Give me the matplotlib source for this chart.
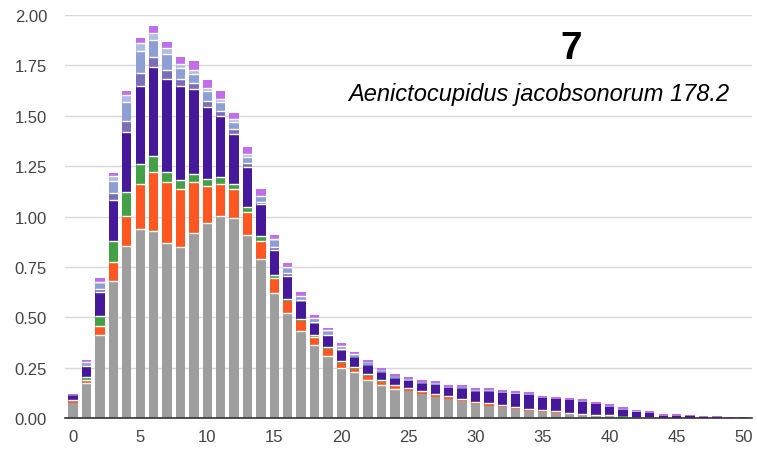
import matplotlib
matplotlib.use("Agg")
import matplotlib.pyplot as plt
import numpy as np

plt.rcParams['font.family'] = ['Liberation Sans', 'DejaVu Sans']

positions = list(range(51))

gray = [0.075, 0.175, 0.412, 0.68, 0.855, 0.938, 0.93, 0.87, 0.85, 0.92,
        0.968, 1.004, 0.995, 0.908, 0.79, 0.62, 0.52, 0.433, 0.364, 0.31,
        0.25, 0.228, 0.19, 0.164, 0.144, 0.132, 0.119, 0.106, 0.094, 0.083,
        0.069, 0.061, 0.053, 0.045, 0.036, 0.03, 0.025, 0.02, 0.015, 0.01,
        0.008, 0.005, 0.004, 0.003, 0.002, 0.002, 0.002, 0.001, 0.001, 0.001, 0.0]
orange = [0.01, 0.015, 0.043, 0.095, 0.149, 0.222, 0.29, 0.30, 0.287, 0.25,
          0.185, 0.156, 0.141, 0.112, 0.09, 0.073, 0.059, 0.047, 0.036, 0.03,
          0.022, 0.017, 0.018, 0.017, 0.014, 0.011, 0.011, 0.01, 0.01, 0.01,
          0.01, 0.01, 0.01, 0.01, 0.009, 0.007, 0.006, 0.005, 0.004, 0.004,
          0.004, 0.002, 0.002, 0.001, 0.0, 0.0, 0.0, 0.0, 0.0, 0.0, 0.0]
green = [0.005, 0.012, 0.053, 0.105, 0.116, 0.10, 0.08, 0.05, 0.043, 0.04,
         0.033, 0.038, 0.024, 0.025, 0.025, 0.017, 0.011, 0.01, 0.013, 0.01,
         0.01, 0.008, 0.008, 0.007, 0.006, 0.005, 0.004, 0.004, 0.003, 0.003,
         0.002, 0.002, 0.002, 0.002, 0.002, 0.002, 0.002, 0.002, 0.002, 0.001,
         0.001, 0.001, 0.0, 0.0, 0.0, 0.0, 0.0, 0.0, 0.0, 0.0, 0.0]
indigo = [0.02, 0.05, 0.116, 0.20, 0.298, 0.39, 0.44, 0.46, 0.47, 0.423,
          0.359, 0.302, 0.25, 0.199, 0.155, 0.124, 0.117, 0.084, 0.054, 0.055,
          0.05, 0.045, 0.042, 0.035, 0.032, 0.035, 0.035, 0.042, 0.04, 0.05,
          0.049, 0.057, 0.058, 0.06, 0.067, 0.058, 0.059, 0.06, 0.059, 0.053,
          0.043, 0.034, 0.025, 0.019, 0.009, 0.009, 0.007, 0.004, 0.003, 0.001, 0.001]
slate = [0.002, 0.008, 0.016, 0.035, 0.055, 0.06, 0.05, 0.045, 0.03, 0.028,
         0.028, 0.025, 0.022, 0.02, 0.013, 0.016, 0.012, 0.01, 0.009, 0.009,
         0.008, 0.006, 0.006, 0.005, 0.004, 0.003, 0.003, 0.003, 0.002, 0.002,
         0.002, 0.002, 0.002, 0.001, 0.001, 0.001, 0.001, 0.001, 0.001, 0.001,
         0.001, 0.0, 0.0, 0.0, 0.0, 0.0, 0.0, 0.0, 0.0, 0.0, 0.0]
steel = [0.003, 0.012, 0.026, 0.06, 0.095, 0.11, 0.085, 0.08, 0.055, 0.048,
         0.048, 0.042, 0.037, 0.033, 0.022, 0.027, 0.02, 0.016, 0.015, 0.015,
         0.012, 0.01, 0.01, 0.007, 0.006, 0.005, 0.005, 0.005, 0.004, 0.004,
         0.003, 0.003, 0.003, 0.003, 0.003, 0.002, 0.002, 0.002, 0.002, 0.001,
         0.001, 0.001, 0.001, 0.001, 0.001, 0.0, 0.0, 0.0, 0.0, 0.0, 0.0]
pale = [0.001, 0.005, 0.010, 0.025, 0.035, 0.04, 0.035, 0.03, 0.022, 0.018,
        0.019, 0.016, 0.015, 0.013, 0.008, 0.011, 0.008, 0.007, 0.006, 0.006,
        0.005, 0.004, 0.004, 0.003, 0.002, 0.002, 0.002, 0.002, 0.002, 0.002,
        0.002, 0.002, 0.001, 0.001, 0.001, 0.001, 0.001, 0.001, 0.001, 0.001,
        0.001, 0.001, 0.001, 0.001, 0.0, 0.0, 0.0, 0.0, 0.0, 0.0, 0.0]
violet = [0.004, 0.013, 0.02, 0.016, 0.021, 0.026, 0.037, 0.03, 0.033, 0.043,
          0.037, 0.041, 0.03, 0.033, 0.033, 0.022, 0.023, 0.017, 0.016, 0.014,
          0.013, 0.012, 0.01, 0.01, 0.01, 0.01, 0.01, 0.01, 0.01, 0.01,
          0.01, 0.01, 0.01, 0.01, 0.01, 0.01, 0.01, 0.01, 0.01, 0.01,
          0.009, 0.009, 0.008, 0.008, 0.007, 0.007, 0.006, 0.006, 0.006, 0.005, 0.005]

series = [gray, orange, green, indigo, slate, steel, pale, violet]
colors = ['#9e9e9e', '#ff5722', '#43a047', '#45199a', '#7b6eb8', '#8e9fd4', '#b0bce6', '#c26ee8']

yticks = [0.0, 0.25, 0.5, 0.75, 1.0, 1.25, 1.5, 1.75, 2.0]
xticks = [0, 5, 10, 15, 20, 25, 30, 35, 40, 45, 50]

fig = plt.figure(figsize=(7.57, 4.52), dpi=100)
ax = fig.add_axes([0.086, 0.073, 0.907, 0.8916])

bw = 0.7
pos = np.array(positions, dtype=float)
bottom = np.zeros(len(positions))
for vals, c in zip(series, colors):
    v = np.array(vals)
    ax.bar(pos, v, bottom=bottom, width=bw, color=c, linewidth=0, zorder=3)
    # white separator at the bottom of a segment when both neighbours are visible
    mask = (v >= 0.012) & (bottom >= 0.012)
    if mask.any():
        ax.hlines(bottom[mask], pos[mask] - bw / 2, pos[mask] + bw / 2,
                  colors='white', linewidth=1.0, zorder=4)
    bottom += v

ax.set_xlim(-0.6, 50.6)
ax.set_ylim(0, 2.0)
ax.set_yticks(yticks)
ax.set_yticklabels([f"{t:.2f}" for t in yticks])
ax.set_xticks(xticks)
ax.yaxis.grid(True, color='#d9d9d9', linewidth=1, zorder=0)
ax.set_axisbelow(True)
for s in ['top', 'right', 'left']:
    ax.spines[s].set_visible(False)
ax.spines['bottom'].set_color('#333333')
ax.spines['bottom'].set_linewidth(1.2)
ax.spines['bottom'].set_zorder(5)
ax.tick_params(axis='y', length=0, pad=13, labelsize=12, labelcolor='#444444')
ax.tick_params(axis='x', length=0, pad=8, labelsize=12, labelcolor='#444444')

fig.text(571 / 757, 1 - 49 / 452, "7", fontsize=28, fontweight='bold',
         ha='center', va='center', color='black')
fig.text(729 / 757, 1 - 95 / 452, "Aenictocupidus jacobsonorum 178.2",
         fontsize=17, style='italic', ha='right', va='center', color='black')

fig.savefig("out.png", dpi=100)
